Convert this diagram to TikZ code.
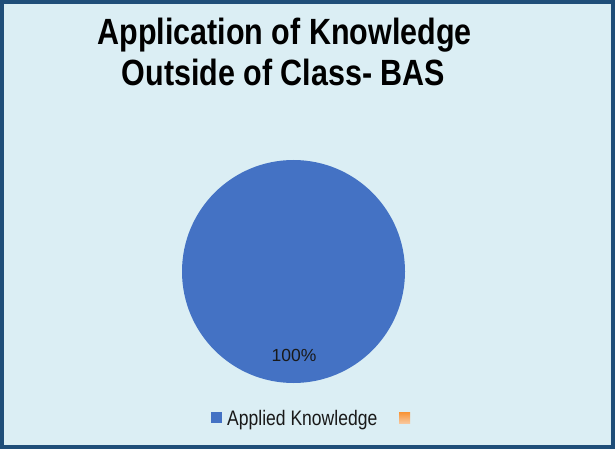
\documentclass[tikz,border=0pt]{standalone}
\usepackage{fontspec}
\setmainfont{Liberation Sans}
\definecolor{bgfill}{HTML}{DBEEF4}
\definecolor{frame}{HTML}{1F4E79}
\definecolor{pieblue}{HTML}{4472C4}
\definecolor{pieorange}{HTML}{F4A460}
\begin{document}
\begin{tikzpicture}[x=1pt,y=-1pt,
  titletext/.style={font=\fontsize{36.5}{36.5}\selectfont\bfseries, anchor=base, inner sep=0pt, xscale=0.835},
  legtext/.style={font=\fontsize{21}{21}\selectfont, anchor=base west, inner sep=0pt, text=black!90, xscale=0.835},
  legkey/.style={inner sep=0pt, minimum width=11pt, minimum height=11pt}]
\useasboundingbox (0,0) rectangle (615,449);
\fill[bgfill] (0,0) rectangle (615,449);
\draw[frame, line width=3.6pt] (1.8,1.8) rectangle (613.2,447.2);
\node[titletext] (t1) at (284.5,45) {Application of Knowledge};
\node[titletext] (t2) at (283.5,85.5) {Outside of Class- BAS};
\fill[pieblue] (293.5,271.5) circle (111.5);
\node[font=\fontsize{17.5}{17.5}\selectfont, anchor=base, inner sep=0pt, text=black!90] (pct) at (294,361) {100\%};
\node[legkey, fill=pieblue] (k1) at (216.3,417.8) {};
\node[legtext] (l1) at (227,425) {Applied Knowledge};
\node[legkey, top color=pieorange!60!orange, bottom color=pieorange!60!white] (k2) at (404.5,418) {};
\end{tikzpicture}
\end{document}
